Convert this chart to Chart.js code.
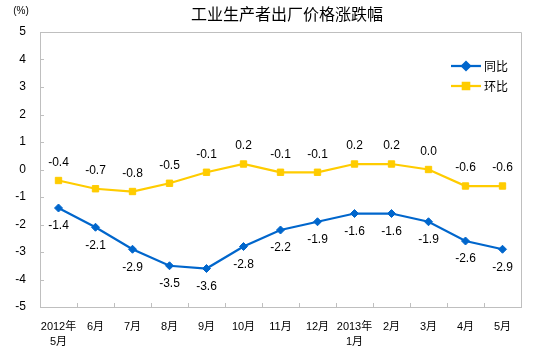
<!DOCTYPE html>
<html>
<head>
<meta charset="utf-8">
<script src="https://cdn.jsdelivr.net/npm/chart.js@4/dist/chart.umd.min.js"></script>
<style>
html, body { margin: 0; padding: 0; background: #fff; }
</style>
</head>
<body>
<canvas id="ppiChart" width="543" height="363"></canvas>
<script>
const months = [['2012年', '5月'], '6月', '7月', '8月', '9月', '10月', '11月', '12月',
  ['2013年', '1月'], '2月', '3月', '4月', '5月'];
const yoy = [-1.4, -2.1, -2.9, -3.5, -3.6, -2.8, -2.2, -1.9, -1.6, -1.6, -1.9, -2.6, -2.9];
const mom = [-0.4, -0.7, -0.8, -0.5, -0.1, 0.2, -0.1, -0.1, 0.2, 0.2, 0.0, -0.6, -0.6];
const seriesNames = ['同比', '环比'];
const titleText = '工业生产者出厂价格涨跌幅';
const unitText = '(%)';

const FONT = '"Liberation Sans", Arial, "Noto Sans CJK SC", sans-serif';
const BLUE = '#0066CC';
const YELLOW = '#FFCC00';
const FRAME = '#BFBFBF';

// title, unit, box, inside tick marks
const frame = {
  id: 'frame',
  beforeDatasetsDraw(chart) {
    const { ctx, chartArea: a } = chart;
    ctx.save();
    ctx.strokeStyle = FRAME;
    ctx.lineWidth = 1;
    ctx.beginPath();
    ctx.moveTo(a.left, a.top + 0.5);
    ctx.lineTo(a.right + 0.5, a.top + 0.5);
    ctx.lineTo(a.right + 0.5, a.bottom);
    // y ticks pointing in
    chart.scales.y.ticks.forEach(t => {
      const y = Math.round(chart.scales.y.getPixelForValue(t.value)) + 0.5;
      ctx.moveTo(a.left, y);
      ctx.lineTo(a.left + 4, y);
    });
    // x ticks between categories
    const n = months.length;
    for (let i = 1; i < n; i++) {
      const x = Math.round(a.left + (a.right - a.left) * i / n) + 0.5;
      ctx.moveTo(x, a.bottom);
      ctx.lineTo(x, a.bottom - 4);
    }
    ctx.stroke();

    ctx.fillStyle = '#000';
    ctx.textAlign = 'center';
    ctx.textBaseline = 'middle';
    ctx.font = '16px "Noto Sans CJK SC", sans-serif';
    ctx.fillText(titleText, 287, 14);
    ctx.font = '10px ' + FONT;
    ctx.fillText(unitText, 21, 11);
    ctx.restore();
  }
};

// value labels + legend
const labels = {
  id: 'labels',
  afterDatasetsDraw(chart) {
    const ctx = chart.ctx;
    ctx.save();
    ctx.font = '12px ' + FONT;
    ctx.fillStyle = '#000';
    ctx.textAlign = 'center';
    ctx.textBaseline = 'middle';
    chart.data.datasets.forEach((ds, i) => {
      const meta = chart.getDatasetMeta(i);
      const dy = i === 0 ? 18 : -18;
      meta.data.forEach((pt, j) => {
        ctx.fillText(ds.data[j].toFixed(1), pt.x, pt.y + dy);
      });
    });

    // legend
    const rows = [66, 86];
    chart.data.datasets.forEach((ds, i) => {
      const y = rows[i];
      ctx.strokeStyle = ds.borderColor;
      ctx.lineWidth = 2.25;
      ctx.beginPath();
      ctx.moveTo(451, y);
      ctx.lineTo(481, y);
      ctx.stroke();
      Chart.helpers.drawPoint(ctx, {
        pointStyle: ds.pointStyle,
        radius: ds.pointRadius,
        borderWidth: 1
      }, 466, y);
      ctx.fillStyle = ds.borderColor;
      ctx.fill();
      ctx.fillStyle = '#000';
      ctx.textAlign = 'left';
      ctx.font = '12px "Noto Sans CJK SC", sans-serif';
      ctx.fillText(ds.label, 484, y);
    });
    ctx.restore();
  }
};

new Chart(document.getElementById('ppiChart'), {
  type: 'line',
  data: {
    labels: months,
    datasets: [
      {
        label: seriesNames[0],
        data: yoy,
        borderColor: BLUE,
        backgroundColor: BLUE,
        borderWidth: 2.25,
        pointStyle: 'rectRot',
        pointRadius: 4,
        pointBorderWidth: 1,
        tension: 0
      },
      {
        label: seriesNames[1],
        data: mom,
        borderColor: YELLOW,
        backgroundColor: YELLOW,
        borderWidth: 2.25,
        pointStyle: 'rect',
        pointRadius: 4.5,
        pointBorderWidth: 1,
        tension: 0
      }
    ]
  },
  options: {
    responsive: false,
    animation: false,
    devicePixelRatio: 1,
    layout: { padding: { top: 32, right: 22, bottom: 0, left: 0 } },
    plugins: {
      legend: { display: false },
      title: { display: false },
      tooltip: { enabled: false }
    },
    scales: {
      x: {
        offset: true,
        grid: { display: false, drawTicks: false },
        border: { display: true, color: FRAME, width: 1 },
        ticks: {
          color: '#000',
          font: { family: FONT, size: 11, lineHeight: 1.4 },
          padding: 12,
          maxRotation: 0,
          autoSkip: false
        },
        afterFit: s => { s.height = 56; }
      },
      y: {
        min: -5,
        max: 5,
        grid: { display: false, drawTicks: false },
        border: { display: true, color: FRAME, width: 1 },
        ticks: {
          stepSize: 1,
          color: '#000',
          font: { family: FONT, size: 12 },
          padding: 14
        },
        afterFit: s => { s.width = 40; }
      }
    }
  },
  plugins: [frame, labels]
});
</script>
</body>
</html>
